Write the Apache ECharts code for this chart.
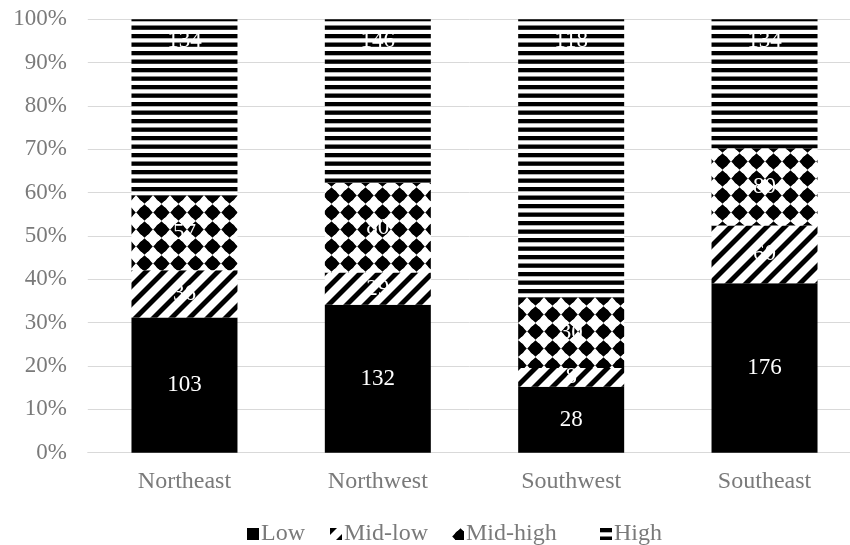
<!DOCTYPE html>
<html>
<head>
<meta charset="utf-8">
<script src="https://cdn.jsdelivr.net/npm/echarts@6/dist/echarts.min.js"></script>
<style>
  html, body { margin: 0; padding: 0; background: #ffffff; }
  #chart { width: 850px; height: 545px; }
</style>
</head>
<body>
<div id="chart"></div>
<script>
// Regions on the category axis
const regions = ['Northeast', 'Northwest', 'Southwest', 'Southeast'];
// Counts per level, one value per region
const lowCounts = [103, 132, 28, 176];
const midLowCounts = [36, 29, 8, 60];
const midHighCounts = [57, 80, 30, 80];
const highCounts = [134, 146, 118, 134];
const seriesNames = ['Low', 'Mid-low', 'Mid-high', 'High'];
// Percent tick labels
const yTicks = ['0%', '10%', '20%', '30%', '40%', '50%', '60%', '70%', '80%', '90%', '100%'];

const FONT = '"Liberation Serif", "Times New Roman", serif';
const GREY = '#7a7a7a';

// ---- monochrome fill tiles ----
function tile(w, h, draw) {
  const c = document.createElement('canvas');
  c.width = w; c.height = h;
  const ctx = c.getContext('2d');
  ctx.fillStyle = '#ffffff';
  ctx.fillRect(0, 0, w, h);
  ctx.fillStyle = '#000000';
  draw(ctx, w, h);
  return c;
}
// wide upward diagonal stripes
const diagTile = tile(18, 18, (ctx, w) => {
  const sw = 7;
  for (let k = -1; k <= 1; k++) {
    ctx.beginPath();
    ctx.moveTo(k * w, w);
    ctx.lineTo(k * w + sw, w);
    ctx.lineTo(k * w + sw + w, 0);
    ctx.lineTo(k * w + w, 0);
    ctx.closePath();
    ctx.fill();
  }
});
// solid diamonds
const diamondTile = tile(17, 17, (ctx, w, h) => {
  const cx = w / 2, cy = h / 2, r = 8.3;
  ctx.beginPath();
  ctx.moveTo(cx, cy - r);
  ctx.lineTo(cx + r, cy);
  ctx.lineTo(cx, cy + r);
  ctx.lineTo(cx - r, cy);
  ctx.closePath();
  ctx.fill();
  ctx.beginPath();
  ctx.arc(cx, cy, 6.2, 0, Math.PI * 2);
  ctx.fill();
});
// wide horizontal lines
const hTile = tile(8, 17, (ctx, w) => {
  ctx.fillRect(0, 0, w, 4.3);
  ctx.fillRect(0, 8.5, w, 4.3);
});

const fills = [
  '#000000',
  { image: diagTile, repeat: 'repeat' },
  { image: diamondTile, repeat: 'repeat' },
  { image: hTile, repeat: 'repeat' }
];

const counts = [lowCounts, midLowCounts, midHighCounts, highCounts];
const totals = regions.map((_, i) => counts.reduce((s, arr) => s + arr[i], 0));

const series = seriesNames.map((name, si) => ({
  name: name,
  type: 'bar',
  stack: 'share',
  barWidth: 106,
  itemStyle: { color: fills[si] },
  label: {
    show: true,
    position: si === 3 ? 'insideTop' : 'inside',
    distance: 10,
    color: '#ffffff',
    fontFamily: FONT,
    fontSize: 23,
    formatter: p => String(counts[si][p.dataIndex])
  },
  emphasis: { disabled: true },
  data: counts[si].map((v, i) => v / totals[i] * 100)
}));

const legendLefts = [247, 330, 452, 600];
const legends = seriesNames.map((name, i) => ({
  data: [name],
  left: legendLefts[i],
  top: 522,
  padding: 0,
  icon: 'rect',
  itemWidth: 12,
  itemHeight: 12,
  selectedMode: false,
  textStyle: { fontFamily: FONT, fontSize: 24, color: GREY, padding: [0, 0, 0, -3] }
}));

const chart = echarts.init(document.getElementById('chart'), null, { renderer: 'canvas' });
chart.setOption({
  animation: false,
  backgroundColor: '#ffffff',
  grid: {
    left: 87.8, width: 773.4, top: 19.3, bottom: 92.3,
    containLabel: false, outerBoundsMode: 'none'
  },
  legend: legends,
  xAxis: {
    type: 'category',
    data: regions,
    axisLine: { lineStyle: { color: '#d9d9d9', width: 1 } },
    axisTick: { show: false },
    axisLabel: { fontFamily: FONT, fontSize: 24, color: GREY, margin: 17 }
  },
  yAxis: {
    type: 'value',
    min: 0,
    max: 100,
    interval: 10,
    axisLine: { show: false },
    axisTick: { show: false },
    splitLine: { lineStyle: { color: '#d9d9d9', width: 1 } },
    axisLabel: {
      fontFamily: FONT, fontSize: 23, color: GREY, margin: 21,
      formatter: v => yTicks[Math.round(v / 10)]
    }
  },
  series: series
});
</script>
</body>
</html>
